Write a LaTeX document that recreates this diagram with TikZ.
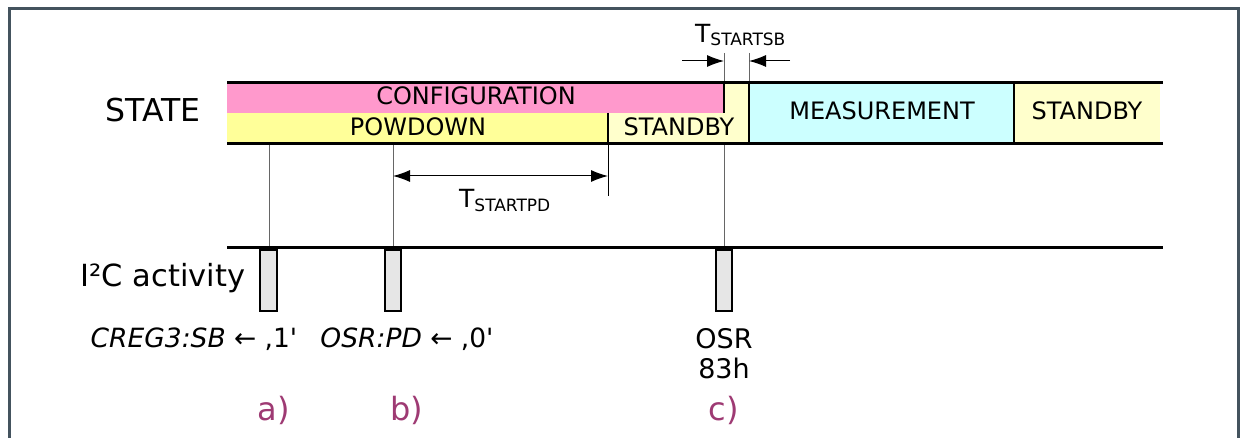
\documentclass[tikz,border=0pt]{standalone}
\usepackage{fontspec}
\setmainfont{DejaVu Sans}
\usetikzlibrary{arrows.meta}

\definecolor{cfgpink}{HTML}{FF99CC}
\definecolor{pdyellow}{HTML}{FFFF99}
\definecolor{sbyellow}{HTML}{FFFFCC}
\definecolor{meascyan}{HTML}{CCFFFF}
\definecolor{burstgray}{HTML}{E6E6E6}
\definecolor{framegray}{HTML}{44535E}
\definecolor{labpurple}{HTML}{9E3A73}

\begin{document}
\begin{tikzpicture}[x=1pt,y=-1pt,
	lbl/.style={inner sep=0pt, anchor=base, font=\fontsize{24}{24}\selectfont},
	rail/.style={line width=3pt},
	border/.style={line width=2pt},
	guide/.style={line width=1pt, draw=black!60},
	dim/.style={line width=1pt, {Latex[length=17pt,width=12pt]}-{Latex[length=17pt,width=12pt]}},
	dimin/.style={line width=1pt, -{Latex[length=17pt,width=12pt]}},
	burst/.style={draw=black, line width=1.5pt, fill=burstgray}]
	
	\useasboundingbox (0,0) rectangle (1245,438);
	\draw[line width=3pt, draw=framegray] (9,442) -- (9,9) -- (1238,9) -- (1238,442);
	
	% state fills
	\fill[cfgpink]  (227,83)  rectangle (724,113);
	\fill[pdyellow] (227,113) rectangle (608,144);
	\fill[sbyellow] (608,113) rectangle (749,144);
	\fill[sbyellow] (724,83)  rectangle (749,113);
	\fill[meascyan] (749,83)  rectangle (1014,144);
	\fill[sbyellow] (1014,83) rectangle (1160,144);
	
	% time marks
	\coordinate (a0) at (269,144);  \coordinate (a1) at (269,248);
	\coordinate (b0) at (393,144);  \coordinate (b1) at (393,248);
	\coordinate (c0) at (724,53);   \coordinate (c1) at (724,83);
	\coordinate (c2) at (724,144);  \coordinate (c3) at (724,248);
	\coordinate (d0) at (749,53);   \coordinate (d1) at (749,83);
	\coordinate (p0) at (608,144);  \coordinate (p1) at (608,196);
	
	\path[guide] (a0) edge (a1);
	\path[guide] (b0) edge (b1);
	\path[guide] (c0) edge (c1);
	\path[guide] (c2) edge (c3);
	\path[guide] (d0) edge (d1);
	\path[draw, line width=1pt] (p0) edge (p1);
	
	% rails and borders
	\draw[rail] (227,83)  -- (1163,83);
	\draw[rail] (227,144) -- (1163,144);
	\draw[rail] (227,248) -- (1163,248);
	\draw[border] (724,83)  -- (724,113);
	\draw[border] (608,113) -- (608,144);
	\draw[border] (749,83)  -- (749,144);
	\draw[border] (1014,83) -- (1014,144);
	
	% timings
	\coordinate (pdl) at (393,176);  \coordinate (pdr) at (608,176);
	\coordinate (sbl) at (682,61);   \coordinate (sbla) at (724,61);
	\coordinate (sbr) at (790,61);   \coordinate (sbra) at (749,61);
	\path[dim] (pdl) edge (pdr);
	\path[dimin] (sbl) edge (sbla);
	\path[dimin] (sbr) edge (sbra);
	
	% i2c bursts
	\draw[burst] (260,250) rectangle (277,311);
	\draw[burst] (385,250) rectangle (401,311);
	\draw[burst] (716,250) rectangle (732,311);
	
	% labels
	\node[lbl, font=\fontsize{31.5}{31.5}\selectfont] (state) at (153,122) {STATE};
	\node[lbl] (cfg)  at (476,105)  {CONFIGURATION};
	\node[lbl] (pd)   at (418,136)  {POWDOWN};
	\node[lbl] (sb1)  at (679,136)  {STANDBY};
	\node[lbl] (meas) at (882,120)  {MEASUREMENT};
	\node[lbl] (sb2)  at (1087,120) {STANDBY};
	
	\node[inner sep=0pt, anchor=base west, font=\fontsize{25}{25}\selectfont] (tsb) at (695,43)
		{T\raisebox{-3pt}{\fontsize{17}{17}\selectfont STARTSB}};
	\node[inner sep=0pt, anchor=base west, font=\fontsize{25}{25}\selectfont] (tpd) at (459,208)
		{T\raisebox{-4pt}{\fontsize{17}{17}\selectfont STARTPD}};
	
	\node[lbl, font=\fontsize{30.5}{30.5}\selectfont] (i2c) at (163,287) {I²C activity};
	\node[lbl, font=\fontsize{26.5}{26.5}\selectfont] (creg) at (194,348) {\textit{CREG3:SB} ← ,1\textquotesingle};
	\node[lbl, font=\fontsize{26.5}{26.5}\selectfont] (osrpd) at (407,348) {\textit{OSR:PD} ← ,0\textquotesingle};
	\node[inner sep=0pt, align=center, font=\fontsize{27}{30}\selectfont] (osr) at (724,353.5) {OSR\\83h};
	
	\node[lbl, text=labpurple, font=\fontsize{32}{32}\selectfont] (la) at (274,420) {a)};
	\node[lbl, text=labpurple, font=\fontsize{32}{32}\selectfont] (lb) at (407,420) {b)};
	\node[lbl, text=labpurple, font=\fontsize{32}{32}\selectfont] (lc) at (724,420) {c)};
	
\end{tikzpicture}
\end{document}
